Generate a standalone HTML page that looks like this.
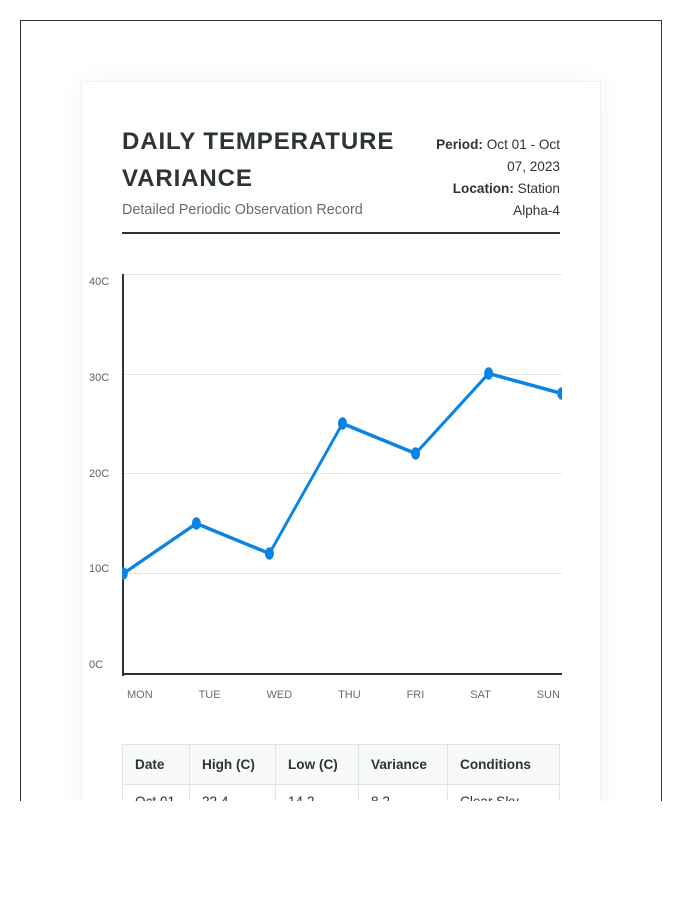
<!DOCTYPE html>
<html>
<head>
<meta charset="utf-8">
<style>
  html, body { margin:0; padding:0; background:#fff; }
  body { width:700px; height:900px; position:relative; overflow:hidden; font-family:"Liberation Sans", Arial, sans-serif; color:#2d3436; }
  .frame { position:absolute; left:20px; top:20px; width:642px; height:781px; box-sizing:border-box;
           border-top:1px solid #333; border-left:1px solid #333; border-right:1px solid #333; overflow:hidden; background:#fff; }
  .card { position:absolute; left:60px; top:60px; width:520px; height:800px; box-sizing:border-box;
          border:1px solid #f0f1f3; background:#fff; box-shadow:0 2px 26px rgba(0,0,0,0.05); }
  .abs { position:absolute; }
  .title { left:101px; top:101.5px; width:310px; font-size:24px; font-weight:bold; letter-spacing:0.9px; line-height:37.3px; margin:0; color:#2d3436; white-space:nowrap; }
  .sub { left:101px; top:177.5px; font-size:14.4px; line-height:23px; color:#636e72; white-space:nowrap; }
  .meta { left:409px; top:113.4px; width:130px; text-align:right; font-size:13.6px; line-height:21.76px; color:#2d3436; }
  .meta b { font-weight:bold; }
  .rule { left:101px; top:211px; width:438px; height:2px; background:#2d3436; }
  .grid { left:101px; width:440px; height:1px; background:#e4e8ea; }
  .yaxis { left:101px; top:253px; width:2px; height:402px; background:#2d3436; }
  .xaxis { left:101px; top:652px; width:440px; height:2px; background:#2d3436; }
  .ylabels { left:68px; top:253px; height:399px; display:flex; flex-direction:column; justify-content:space-between; font-size:11px; line-height:16px; color:#5a6266; }
  .xlabels { left:106px; top:666px; width:433px; display:flex; justify-content:space-between; font-size:11px; line-height:16px; color:#636e72; }
  svg.chart { position:absolute; left:101px; top:233px; overflow:hidden; }
  table { position:absolute; left:101px; top:723px; border-collapse:collapse; table-layout:fixed; width:437px; font-size:13.6px; }
  th, td { border:1px solid #dfe6e9; text-align:left; line-height:normal; white-space:nowrap; }
  th { background:#f8f9fa; font-weight:bold; padding:12px 12px; color:#2d3436; }
  td { padding:9px 12px; color:#2d3436; }
</style>
</head>
<body>
<div class="frame">
  <div class="card"></div>

  <div class="abs title">DAILY TEMPERATURE<br>VARIANCE</div>
  <div class="abs sub">Detailed Periodic Observation Record</div>
  <div class="abs meta"><b>Period:</b> Oct 01 - Oct 07, 2023<br><b>Location:</b> Station Alpha-4</div>
  <div class="abs rule"></div>

  <div class="abs grid" style="top:253px"></div>
  <div class="abs grid" style="top:353px"></div>
  <div class="abs grid" style="top:452px"></div>
  <div class="abs grid" style="top:552px"></div>

  <div class="abs ylabels"><span>40C</span><span>30C</span><span>20C</span><span>10C</span><span>0C</span></div>

  <div class="abs yaxis"></div>
  <div class="abs xaxis"></div>

  <svg class="chart" width="440" height="440" viewBox="0 0 440 440">
    <g transform="translate(1.3,19.5) scale(0.7307,1)">
      <polyline points="0,300 100,250 200,280 300,150 400,180 500,100 600,120" fill="none" stroke="#0984e3" stroke-width="3.6" stroke-linejoin="round" stroke-linecap="round"/>
      <g fill="#0984e3">
        <circle cx="0" cy="300" r="6.2"/>
        <circle cx="100" cy="250" r="6.2"/>
        <circle cx="200" cy="280" r="6.2"/>
        <circle cx="300" cy="150" r="6.2"/>
        <circle cx="400" cy="180" r="6.2"/>
        <circle cx="500" cy="100" r="6.2"/>
        <circle cx="600" cy="120" r="6.2"/>
      </g>
    </g>
  </svg>

  <div class="abs xlabels"><span>MON</span><span>TUE</span><span>WED</span><span>THU</span><span>FRI</span><span>SAT</span><span>SUN</span></div>

  <table>
    <colgroup><col style="width:67px"><col style="width:86px"><col style="width:83px"><col style="width:89px"><col style="width:112px"></colgroup>
    <tr><th>Date</th><th>High (C)</th><th>Low (C)</th><th>Variance</th><th>Conditions</th></tr>
    <tr><td>Oct 01</td><td>22.4</td><td>14.2</td><td>8.2</td><td>Clear Sky</td></tr>
    <tr><td>Oct 02</td><td>24.1</td><td>15.0</td><td>9.1</td><td>Sunny</td></tr>
  </table>
</div>
</body>
</html>
